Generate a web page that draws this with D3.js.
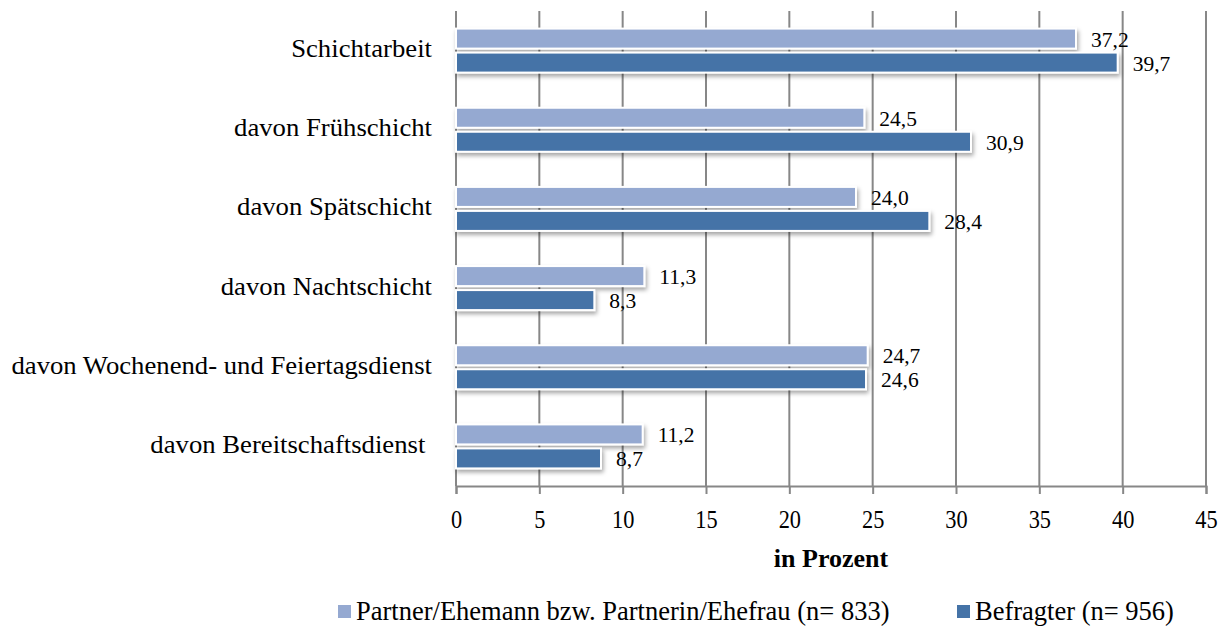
<!DOCTYPE html>
<html>
<head>
<meta charset="utf-8">
<script src="https://cdn.jsdelivr.net/npm/d3@7"></script>
<style>
  body { margin: 0; background: #fff; }
</style>
</head>
<body>
<svg id="chart" width="1231" height="631"></svg>
<script>
const categories = [
  "Schichtarbeit",
  "davon Frühschicht",
  "davon Spätschicht",
  "davon Nachtschicht",
  "davon Wochenend- und Feiertagsdienst",
  "davon Bereitschaftsdienst "
];
const partnerValues = [37.2, 24.5, 24.0, 11.3, 24.7, 11.2];
const befragterValues = [39.7, 30.9, 28.4, 8.3, 24.6, 8.7];
const seriesNames = [
  "Partner/Ehemann bzw. Partnerin/Ehefrau (n= 833)",
  "Befragter (n= 956)"
];
const xTicks = [0, 5, 10, 15, 20, 25, 30, 35, 40, 45];
const colors = ["#95a9d1", "#4573a7"];

const FONT = '"Liberation Serif", Tinos, "Times New Roman", serif';
const svg = d3.select("#chart");
const plot = { left: 456, right: 1206, top: 11, bottom: 486 };

const x = d3.scaleLinear().domain([0, 45]).range([plot.left, plot.right]);
const y = d3.scaleBand().domain(categories).range([plot.top, plot.bottom]);

// places a text at (px, py) with a horizontal stretch factor
function placeText(sel, px, py, sx) {
  sel.attr("x", 0).attr("y", 0)
    .attr("transform", (d, i) => `translate(${px(d, i)},${py(d, i)}) scale(${sx},1)`);
}

const defs = svg.append("defs");
const f = defs.append("filter").attr("id", "shadow")
  .attr("x", "-5%").attr("y", "-50%").attr("width", "110%").attr("height", "220%");
f.append("feDropShadow").attr("dx", 1.5).attr("dy", 3).attr("stdDeviation", 2)
  .attr("flood-color", "#000").attr("flood-opacity", 0.35);

const gridColor = "#878787";

// vertical gridlines
svg.append("g").selectAll("line").data(xTicks).join("line")
  .attr("x1", d => x(d)).attr("x2", d => x(d))
  .attr("y1", plot.top).attr("y2", plot.bottom)
  .attr("stroke", gridColor).attr("stroke-width", 2);

// bottom axis
const axis = svg.append("g")
  .attr("transform", `translate(0,${plot.bottom})`)
  .call(d3.axisBottom(x).tickValues(xTicks).tickSize(8).tickFormat(d3.format("d")));
axis.select(".domain").attr("stroke", gridColor).attr("stroke-width", 2);
axis.selectAll(".tick line").attr("stroke", gridColor).attr("stroke-width", 2);
axis.selectAll(".tick text")
  .attr("dy", null).attr("y", 0)
  .attr("transform", "translate(0,42) scale(0.86,1)")
  .style("font-family", FONT).style("font-size", "26px").attr("fill", "#000");

// bars with value labels
const barH = 20, gap = 4;
const fmt = v => v.toFixed(1).replace(".", ",");
const series = [partnerValues, befragterValues];
series.forEach((vals, si) => {
  const g = svg.append("g");
  const yOff = si * (barH + gap) + y.bandwidth() / 2 - barH - gap / 2;
  g.selectAll("rect").data(categories).join("rect")
    .attr("x", x(0))
    .attr("y", d => y(d) + yOff)
    .attr("width", (d, i) => x(vals[i]) - x(0))
    .attr("height", barH)
    .attr("fill", colors[si])
    .attr("stroke", "#fff").attr("stroke-width", 2)
    .attr("filter", "url(#shadow)");
  g.selectAll("text").data(categories).join("text")
    .attr("x", (d, i) => x(vals[i]) + 15)
    .attr("y", d => y(d) + yOff + barH / 2 + 8)
    .style("font-family", FONT).style("font-size", "21.5px").attr("fill", "#000")
    .text((d, i) => fmt(vals[i]));
});

// category labels
svg.append("g").selectAll("text").data(categories).join("text")
  .attr("text-anchor", "end")
  .style("font-family", FONT).style("font-size", "24.5px").style("white-space", "pre")
  .attr("fill", "#000")
  .text(d => d)
  .call(placeText, () => 432, d => y(d) + y.bandwidth() / 2 + 6.5, 1.09);

// axis title
svg.append("text")
  .attr("x", 831).attr("y", 567)
  .attr("text-anchor", "middle")
  .style("font-family", FONT).style("font-size", "26px").style("font-weight", "bold")
  .text("in Prozent");

// legend
const legendItems = [
  { x: 338, name: seriesNames[0], color: colors[0] },
  { x: 957, name: seriesNames[1], color: colors[1] }
];
const lg = svg.append("g");
legendItems.forEach(it => {
  lg.append("rect").attr("x", it.x).attr("y", 605).attr("width", 13).attr("height", 13).attr("fill", it.color);
  lg.append("text").attr("x", it.x + 18).attr("y", 620)
    .style("font-family", FONT).style("font-size", "26.5px").attr("fill", "#000")
    .text(it.name);
});
</script>
</body>
</html>
